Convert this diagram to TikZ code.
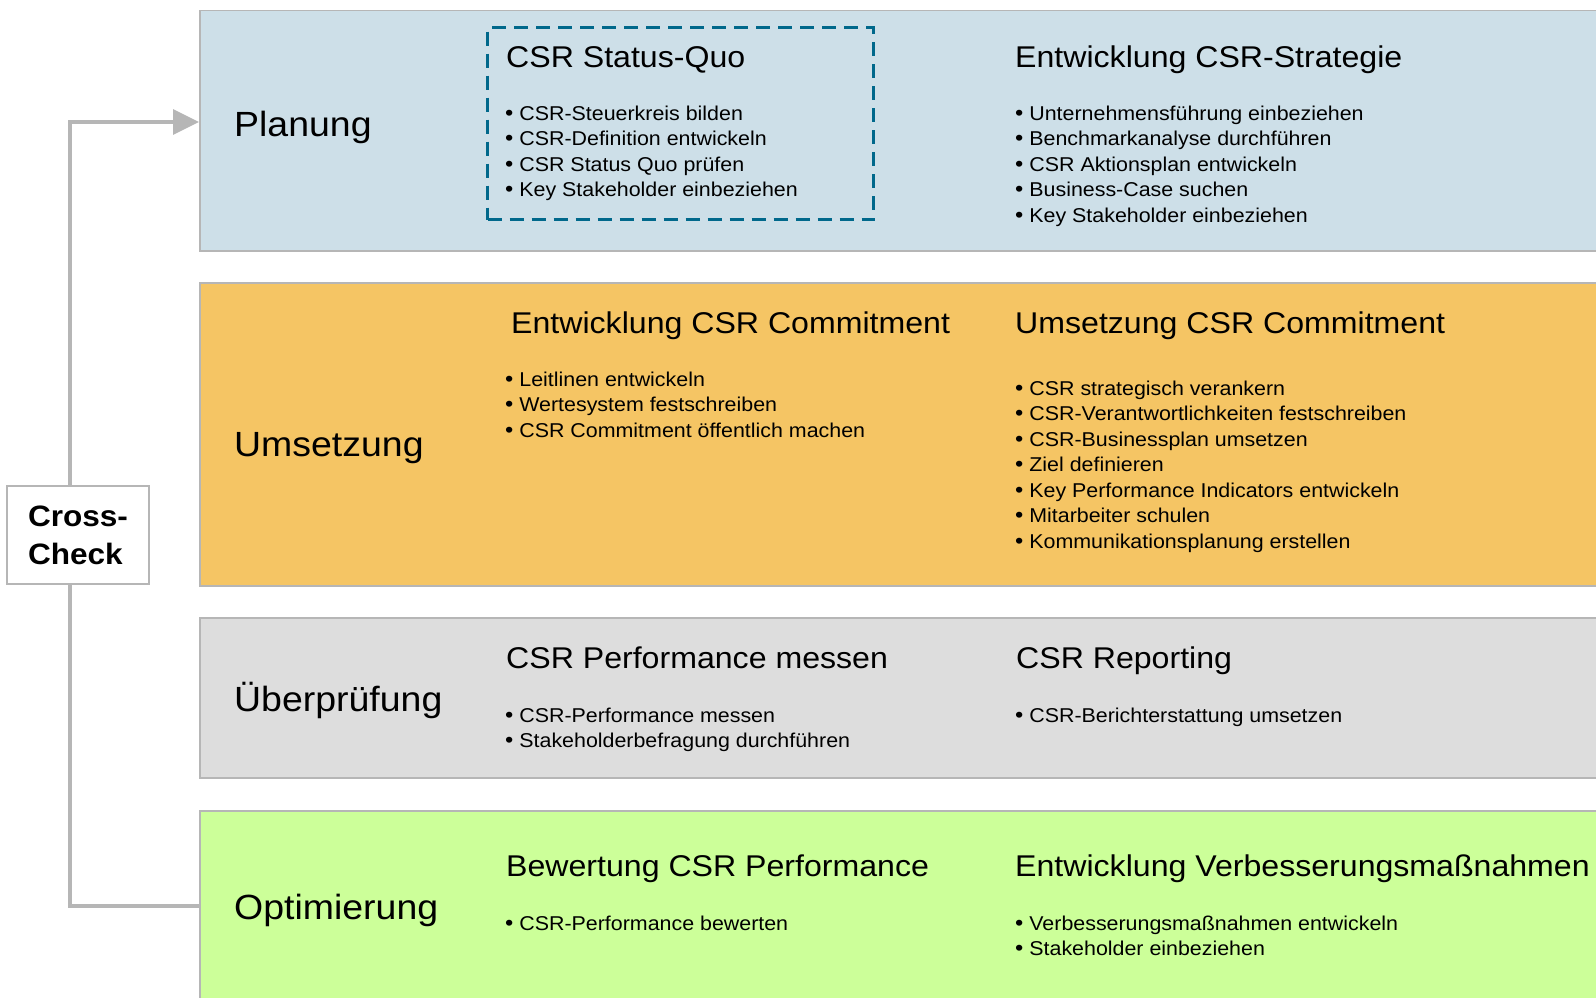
\documentclass[tikz,border=0pt]{standalone}
\usepackage{fontspec}
\setmainfont{Liberation Sans}[FakeStretch=1.07]
\usepackage{tikz}
\usetikzlibrary{arrows.meta}

\definecolor{planfill}{RGB}{205,223,232}
\definecolor{umsfill}{RGB}{245,197,100}
\definecolor{pruefill}{RGB}{221,221,221}
\definecolor{optfill}{RGB}{204,255,153}
\definecolor{bandline}{RGB}{182,182,182}
\definecolor{linkgray}{RGB}{182,182,182}
\definecolor{dashblue}{RGB}{0,104,139}

% one column of bullet points, one node per line
\newcommand{\itemcol}[4]{%
  \foreach \txt [count=\i] in {#4}
    \node[itm] (#1-\i) at (#2,{#3+25.5*(\i-1)}) {{\fontsize{22}{24}\selectfont\textbullet}\ \txt};}

\begin{document}
\begin{tikzpicture}[x=1pt,y=-1pt,>={Triangle[length=26pt,width=25pt]},
  band/.style={draw=bandline,line width=1.5pt,anchor=north west,minimum width=1420pt,inner sep=0pt},
  phase/.style={anchor=base west,inner sep=0pt,font=\fontsize{35}{40}\selectfont},
  head/.style={anchor=base west,inner sep=0pt,font=\fontsize{30}{36}\selectfont},
  itm/.style={anchor=base west,inner sep=0pt,font=\fontsize{20}{24}\selectfont},
  link/.style={draw=linkgray,line width=3.5pt}]

  \useasboundingbox (0,0) rectangle (1596,998);
  \clip (0,0) rectangle (1596,998);

  % the four phases
  \node[band,fill=planfill,minimum height=240pt] (plan) at (199,10) {};
  \node[band,fill=umsfill,minimum height=303pt] (ums) at (199,282) {};
  \node[band,fill=pruefill,minimum height=160pt] (pruef) at (199,617) {};
  \node[band,fill=optfill,minimum height=192pt] (opt) at (199,810) {};

  \node[draw=dashblue,line width=3.3pt,dash pattern=on 14pt off 8pt,anchor=north west,
        minimum width=386pt,minimum height=192pt,inner sep=0pt] (sq) at (486,26) {};

  \node[phase] (plan-l)  at (234,136) {Planung};
  \node[phase] (ums-l)   at (234,456) {Umsetzung};
  \node[phase] (pruef-l) at (234,711) {Überprüfung};
  \node[phase] (opt-l)   at (234,919) {Optimierung};

  % Planung
  \node[head] (sq-h) at (506,67) {CSR Status-Quo};
  \itemcol{sq}{505}{120}{CSR-Steuerkreis bilden,CSR-Definition entwickeln,CSR Status Quo prüfen,Key Stakeholder einbeziehen}
  \node[head] (str-h) at (1015,67) {Entwicklung CSR-Strategie};
  \itemcol{str}{1015}{120}{Unternehmensführung einbeziehen,Benchmarkanalyse durchführen,CSR Aktionsplan entwickeln,Business-Case suchen,Key Stakeholder einbeziehen}

  % Umsetzung
  \node[head] (com-h) at (511,333) {Entwicklung CSR Commitment};
  \itemcol{com}{505}{386}{Leitlinen entwickeln,Wertesystem festschreiben,CSR Commitment öffentlich machen}
  \node[head] (uc-h) at (1015,333) {Umsetzung CSR Commitment};
  \itemcol{uc}{1015}{395}{CSR strategisch verankern,CSR-Verantwortlichkeiten festschreiben,CSR-Businessplan umsetzen,Ziel definieren,Key Performance Indicators entwickeln,Mitarbeiter schulen,Kommunikationsplanung erstellen}

  % Überprüfung
  \node[head] (pm-h) at (506,668) {CSR Performance messen};
  \itemcol{pm}{505}{722}{CSR-Performance messen,Stakeholderbefragung durchführen}
  \node[head] (rep-h) at (1016,668) {CSR Reporting};
  \itemcol{rep}{1015}{722}{CSR-Berichterstattung umsetzen}

  % Optimierung
  \node[head] (bew-h) at (506,876) {Bewertung CSR Performance};
  \itemcol{bew}{505}{930}{CSR-Performance bewerten}
  \node[head] (vb-h) at (1015,876) {Entwicklung Verbesserungsmaßnahmen};
  \itemcol{vb}{1015}{930}{Verbesserungsmaßnahmen entwickeln,Stakeholder einbeziehen}

  % cross-check loop
  \coordinate (top-bend) at (70,122);
  \coordinate (bot-bend) at (70,906);
  \node[draw=bandline,line width=1.5pt,fill=white,minimum width=142pt,minimum height=98pt,
        inner sep=0pt,align=left,font=\bfseries\fontsize{29.5}{38}\selectfont] (cc) at (78,535) {Cross-\\Check};
  \draw[link] (opt.west |- bot-bend) -- (bot-bend) -- (cc.south -| bot-bend);
  \draw[link,->] (cc.north -| top-bend) -- (top-bend) -- (plan.west |- top-bend);

\end{tikzpicture}
\end{document}
